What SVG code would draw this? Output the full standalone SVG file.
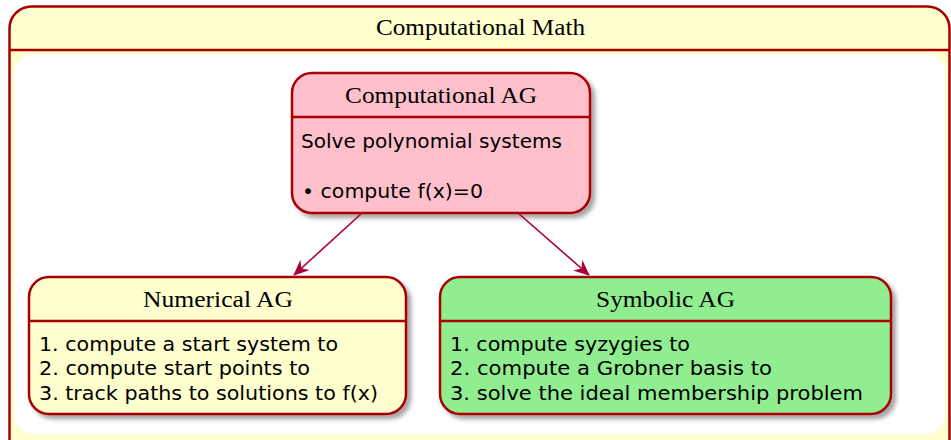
<svg xmlns="http://www.w3.org/2000/svg" width="951" height="440" viewBox="0 0 951 440">
<defs>
<filter id="sh" x="-10%" y="-10%" width="130%" height="140%">
<feGaussianBlur in="SourceAlpha" stdDeviation="2"/>
<feOffset dx="4" dy="4" result="b"/>
<feFlood flood-color="#000" flood-opacity="0.35"/>
<feComposite in2="b" operator="in"/>
<feMerge><feMergeNode/><feMergeNode in="SourceGraphic"/></feMerge>
</filter>
<marker id="ah" viewBox="0 0 16 14" refX="15" refY="7" markerWidth="16" markerHeight="14" markerUnits="userSpaceOnUse" orient="auto">
<path d="M0,0 L16,7 L0,14 L5,7 Z" fill="#A80036"/>
</marker>
</defs>
<style>
.box{stroke:#A80000;stroke-width:2.5}
.sep{stroke:#A80000;stroke-width:2.5}
.title{font-family:"Liberation Serif","Times New Roman",serif;font-size:23px;fill:#000;text-anchor:middle}
.body{font-family:"DejaVu Sans","Noto Sans",sans-serif;font-size:20px;fill:#000}
.edge{stroke:#A80036;stroke-width:1.6;fill:none}
</style>
<rect width="951" height="440" fill="#fff"/>
<g id="container">
<rect x="9.5" y="6.5" width="940" height="460" rx="22" ry="22" fill="#FEFECE" class="box"/>
<line x1="9.5" y1="50" x2="949.5" y2="50" class="sep"/>
<rect x="14" y="54" width="931" height="380" rx="20" ry="20" fill="#fff"/>
<text x="480.5" y="35" class="title" textLength="209" lengthAdjust="spacingAndGlyphs">Computational Math</text>
</g>
<g id="computational-ag">
<rect x="292" y="73" width="298" height="140" rx="20" ry="20" fill="#FFC0CB" class="box" filter="url(#sh)"/>
<line x1="292" y1="117" x2="590" y2="117" class="sep"/>
<text x="441" y="103" class="title" textLength="192" lengthAdjust="spacingAndGlyphs">Computational AG</text>
<text x="301" y="148" class="body" textLength="261" lengthAdjust="spacingAndGlyphs">Solve polynomial systems</text>
<text x="302" y="198" class="body" textLength="181" lengthAdjust="spacingAndGlyphs">• compute f(x)=0</text>
</g>
<g id="numerical-ag">
<rect x="29" y="277" width="377" height="137" rx="20" ry="20" fill="#FEFECE" class="box" filter="url(#sh)"/>
<line x1="29" y1="321" x2="406" y2="321" class="sep"/>
<text x="218" y="307" class="title" textLength="150" lengthAdjust="spacingAndGlyphs">Numerical AG</text>
<text x="39" y="351" class="body" textLength="299" lengthAdjust="spacingAndGlyphs">1. compute a start system to</text>
<text x="39" y="375" class="body" textLength="271" lengthAdjust="spacingAndGlyphs">2. compute start points to</text>
<text x="39" y="400" class="body" textLength="339" lengthAdjust="spacingAndGlyphs">3. track paths to solutions to f(x)</text>
</g>
<g id="symbolic-ag">
<rect x="440" y="277" width="451" height="137" rx="20" ry="20" fill="#90EE90" class="box" filter="url(#sh)"/>
<line x1="440" y1="321" x2="891" y2="321" class="sep"/>
<text x="665.5" y="307" class="title" textLength="139" lengthAdjust="spacingAndGlyphs">Symbolic AG</text>
<text x="450" y="351" class="body" textLength="240" lengthAdjust="spacingAndGlyphs">1. compute syzygies to</text>
<text x="450" y="375" class="body" textLength="322" lengthAdjust="spacingAndGlyphs">2. compute a Grobner basis to</text>
<text x="450" y="400" class="body" textLength="413" lengthAdjust="spacingAndGlyphs">3. solve the ideal membership problem</text>
</g>
<g id="connectors">
<line x1="362" y1="213" x2="294" y2="275" class="edge" marker-end="url(#ah)"/>
<line x1="518" y1="213" x2="589" y2="275" class="edge" marker-end="url(#ah)"/>
</g>
</svg>
